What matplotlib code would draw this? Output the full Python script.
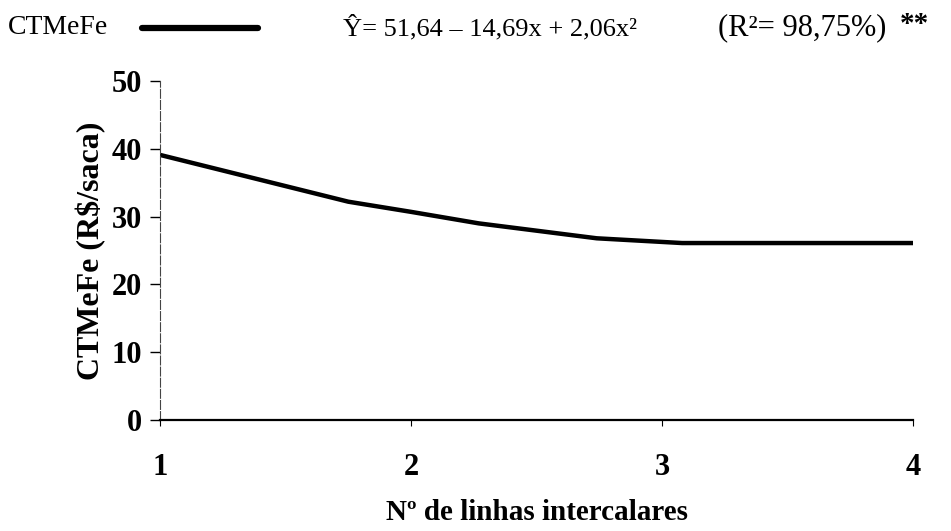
import matplotlib
matplotlib.use("Agg")
import matplotlib.pyplot as plt

# CTMeFe curve (R$/saca) versus number of intercalated rows
linhas = [1.0, 1.75, 2.0, 2.27, 2.74, 3.08, 4.0]
ctmefe = [39.1, 32.2, 30.7, 29.0, 26.8, 26.1, 26.1]

x_ticks = [1, 2, 3, 4]
y_ticks = [0, 10, 20, 30, 40, 50]

serif = ["Liberation Serif", "DejaVu Serif"]
plt.rcParams["font.family"] = serif

fig = plt.figure(figsize=(9.51, 5.31), dpi=100)
W, H = 951, 531
ax = fig.add_axes([160 / W, 1 - 420 / H, (913 - 160) / W, (420 - 81) / H])

ax.plot(linhas, ctmefe, color="black", linewidth=3.2, solid_capstyle="round")

ax.set_xlim(1, 4)
ax.set_ylim(0, 50)
ax.set_xticks(x_ticks)
ax.set_yticks(y_ticks)
ax.set_xticklabels([str(v) for v in x_ticks], fontsize=22, fontweight="bold")
ax.set_yticklabels([str(v) for v in y_ticks], fontsize=22, fontweight="bold")

for s in ("top", "right"):
    ax.spines[s].set_visible(False)
ax.spines["bottom"].set_linewidth(1.6)
ax.spines["left"].set_linewidth(0.8)
ax.spines["left"].set_color("#444444")
ax.spines["left"].set_linestyle((0, (8, 2)))

ax.tick_params(axis="y", direction="out", length=7, width=1.0, pad=6)
ax.tick_params(axis="x", direction="out", length=4, width=0.8, pad=20)

ax.set_xlabel("Nº de linhas intercalares", fontsize=21, fontweight="bold", labelpad=12)
ax.set_ylabel("CTMeFe (R$/saca)", fontsize=23, fontweight="bold", labelpad=4)

# Legend row with regression equation
row_y = 1 - 28 / H
fig.text(8 / W, row_y, "CTMeFe", fontsize=20, va="center", ha="left")
fig.add_artist(plt.Line2D([142 / W, 258 / W], [row_y, row_y],
                          color="black", linewidth=4.5, solid_capstyle="round",
                          transform=fig.transFigure))
fig.text(343 / W, row_y, "Ŷ= 51,64 – 14,69x + 2,06x²", fontsize=19,
         va="center", ha="left")
fig.text(718 / W, row_y, "(R²= 98,75%)", fontsize=22,
         va="center", ha="left")
fig.text(900 / W, row_y + 3 / H, "**", fontsize=21, fontweight="bold",
         va="center", ha="left")

fig.savefig("out.png", dpi=100, facecolor="white")
